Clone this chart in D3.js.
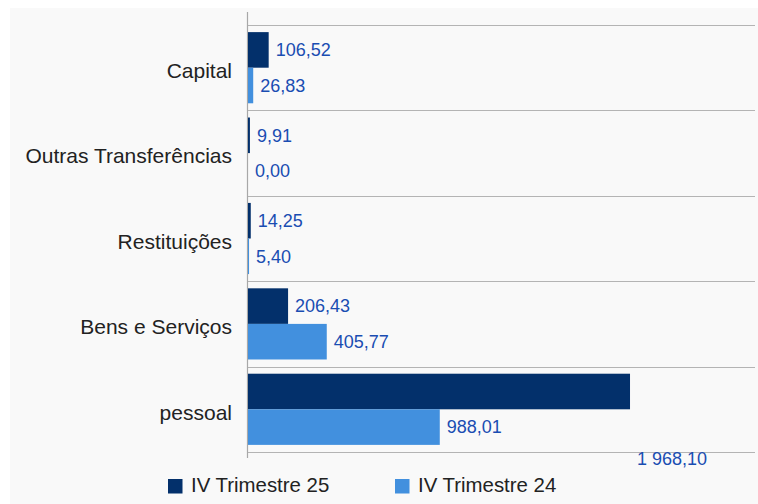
<!DOCTYPE html>
<html><head><meta charset="utf-8">
<script src="https://cdn.jsdelivr.net/npm/d3@7"></script>
<style>html,body{margin:0;padding:0;background:#fff;}svg{display:block;}</style>
</head><body>
<svg id="c" width="758" height="504"></svg>
<script>
const categories = ["Capital", "Outras Transferências", "Restituições", "Bens e Serviços", "pessoal"];
const seriesNames = ["IV Trimestre 25", "IV Trimestre 24"];
const trim25 = [106.52, 9.91, 14.25, 206.43, 1968.10];
const trim24 = [26.83, 0.00, 5.40, 405.77, 988.01];
const colors = ["#03306b", "#4290de"];

const fmt = v => {
  const s = v.toFixed(2).replace(".", ",");
  const [i, d] = s.split(",");
  return i.replace(/\B(?=(\d{3})+(?!\d))/g, " ") + "," + d;
};

const svg = d3.select("#c");
svg.append("rect").attr("x", 10).attr("y", 8).attr("width", 748).attr("height", 496).attr("fill", "#f9f9f9");

const x = d3.scaleLinear().domain([0, 2612]).range([248, 755]);
const y = d3.scaleBand().domain(categories).range([25, 452]).paddingInner(0).paddingOuter(0);
const inner = d3.scaleBand().domain([0, 1]).range([0, y.bandwidth()]).paddingOuter(0.2).paddingInner(0);

// gridlines at band boundaries
const bounds = categories.map(c => y(c)).concat([y.range()[1]]);
svg.append("g").selectAll("line").data(bounds).join("line")
  .attr("x1", 247).attr("x2", 755)
  .attr("y1", d => Math.round(d) + 0.5).attr("y2", d => Math.round(d) + 0.5)
  .attr("stroke", "#b4b4b4").attr("stroke-width", 1.2);

// axis line
svg.append("line").attr("x1", 247.5).attr("x2", 247.5).attr("y1", 12).attr("y2", 458)
  .attr("stroke", "#a8a8a8").attr("stroke-width", 1.2);

// category labels
svg.append("g").selectAll("text").data(categories).join("text")
  .attr("x", 232).attr("y", d => y(d) + y.bandwidth() / 2 + 3)
  .attr("dy", "0.35em").attr("text-anchor", "end")
  .attr("font-family", "Liberation Sans, Arial, sans-serif").attr("font-size", 21)
  .attr("fill", "#222").text(d => d);

const series = [trim25, trim24];
const rows = [];
series.forEach((vals, si) => vals.forEach((v, ci) => rows.push({ si, ci, v })));

svg.append("g").selectAll("rect").data(rows).join("rect")
  .attr("x", x(0))
  .attr("y", d => y(categories[d.ci]) + inner(d.si))
  .attr("width", d => x(d.v) - x(0))
  .attr("height", inner.bandwidth())
  .attr("fill", d => colors[d.si]);

const maxV = d3.max(trim25);
svg.append("g").selectAll("text").data(rows).join("text")
  .attr("x", d => x(d.v) + 7)
  .attr("y", d => {
    const top = y(categories[d.ci]) + inner(d.si);
    if (d.si === 0 && d.v === maxV) return y(categories[d.ci]) + inner(1) + inner.bandwidth() + 14;
    return top + inner.bandwidth() / 2;
  })
  .attr("dy", "0.35em")
  .attr("font-family", "Liberation Sans, Arial, sans-serif").attr("font-size", 18)
  .attr("fill", "#1a4db2").text(d => fmt(d.v));

// legend
const legX = [168, 395];
const lg = svg.append("g").selectAll("g").data(seriesNames).join("g");
lg.append("rect").attr("x", (d, i) => legX[i]).attr("y", 479).attr("width", 14.5).attr("height", 14.5)
  .attr("fill", (d, i) => colors[i]);
lg.append("text").attr("x", (d, i) => legX[i] + 23).attr("y", 492)
  .attr("font-family", "Liberation Sans, Arial, sans-serif").attr("font-size", 20.4)
  .attr("fill", "#222").text(d => d);
</script>
</body></html>
